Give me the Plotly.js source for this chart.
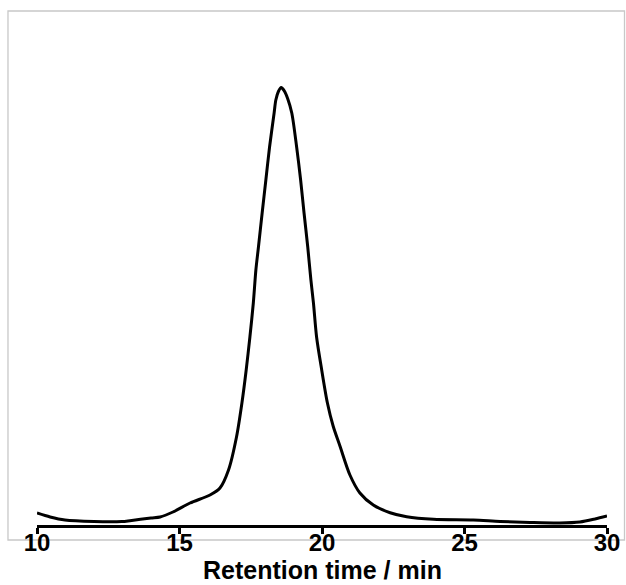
<!DOCTYPE html>
<html>
<head>
<meta charset="utf-8">
<script src="https://cdn.plot.ly/plotly-3.0.1.min.js"></script>
<style>html,body{margin:0;padding:0;background:#fff;}#chart{width:626px;height:585px;}</style>
</head>
<body>
<div id="chart"></div>
<script>
// Retention time (min)
const retentionTime = [10.00, 10.46, 10.98, 12.00, 12.98, 13.26, 14.00, 14.32, 14.77, 15.37, 16.07, 16.42, 16.72, 17.00, 17.19, 17.34, 17.47, 17.59, 17.68, 17.77, 17.90, 18.03, 18.16, 18.32, 18.38, 18.47, 18.57, 18.67, 18.80, 18.94, 19.11, 19.25, 19.37, 19.50, 19.61, 19.70, 19.81, 19.99, 20.19, 20.39, 20.63, 20.98, 21.33, 21.80, 22.39, 22.97, 23.91, 25.31, 26.25, 27.30, 28.35, 29.05, 29.58, 30.00];
// Detector signal (arbitrary units)
const signal = [2.33, 1.56, 0.97, 0.68, 0.68, 0.84, 1.36, 1.56, 2.53, 4.28, 5.84, 7.20, 10.70, 17.12, 23.74, 30.16, 36.58, 43.19, 49.61, 54.09, 60.70, 67.12, 73.54, 80.16, 82.68, 84.34, 85.10, 84.50, 82.90, 80.16, 73.54, 67.12, 60.70, 54.09, 47.67, 43.19, 36.58, 30.16, 23.74, 19.26, 15.37, 9.73, 6.23, 3.89, 2.39, 1.61, 1.11, 0.97, 0.68, 0.49, 0.39, 0.58, 1.17, 1.75];
const xTickVals = [10, 15, 20, 25, 30];
const xTickText = ["10", "15", "20", "25", "30"];
const xTitle = "Retention time / min";

const trace = {
  x: retentionTime,
  y: signal,
  type: "scatter",
  mode: "lines",
  line: {color: "#000", width: 3, shape: "spline", smoothing: 0.8},
  hoverinfo: "skip"
};

const layout = {
  width: 626, height: 585,
  margin: {l: 37, r: 19, t: 11, b: 60, pad: 0},
  paper_bgcolor: "#fff", plot_bgcolor: "rgba(0,0,0,0)",
  showlegend: false,
  font: {family: "Liberation Sans, Arial, sans-serif", color: "#000"},
  xaxis: {
    range: [10, 30],
    tickmode: "array", tickvals: xTickVals, ticktext: xTickText.map(t => "<b>" + t + "</b>"),
    showgrid: false, zeroline: false,
    showline: true, linecolor: "#000", linewidth: 3,
    ticks: "outside", ticklen: 6, tickwidth: 3, tickcolor: "#000",
    ticklabelstandoff: -12,
    tickfont: {size: 24, family: "Liberation Sans, Arial, sans-serif", color: "#000"}
  },
  yaxis: {
    range: [0, 100], visible: false, showgrid: false, zeroline: false, fixedrange: true
  },
  annotations: [{
    text: "<b>" + xTitle + "</b>", xref: "paper", yref: "paper",
    x: 0.5, y: -0.0875, xanchor: "center", yanchor: "middle", showarrow: false,
    font: {size: 25, family: "Liberation Sans, Arial, sans-serif", color: "#000"}
  }],
  shapes: [{
    type: "rect", xref: "paper", yref: "paper",
    x0: -0.0509, x1: 1.0307, y0: -0.0292, y1: 1.0,
    line: {color: "#c8c8c8", width: 1.3}, layer: "below"
  }]
};

Plotly.newPlot("chart", [trace], layout, {staticPlot: true, displayModeBar: false});
</script>
</body>
</html>
